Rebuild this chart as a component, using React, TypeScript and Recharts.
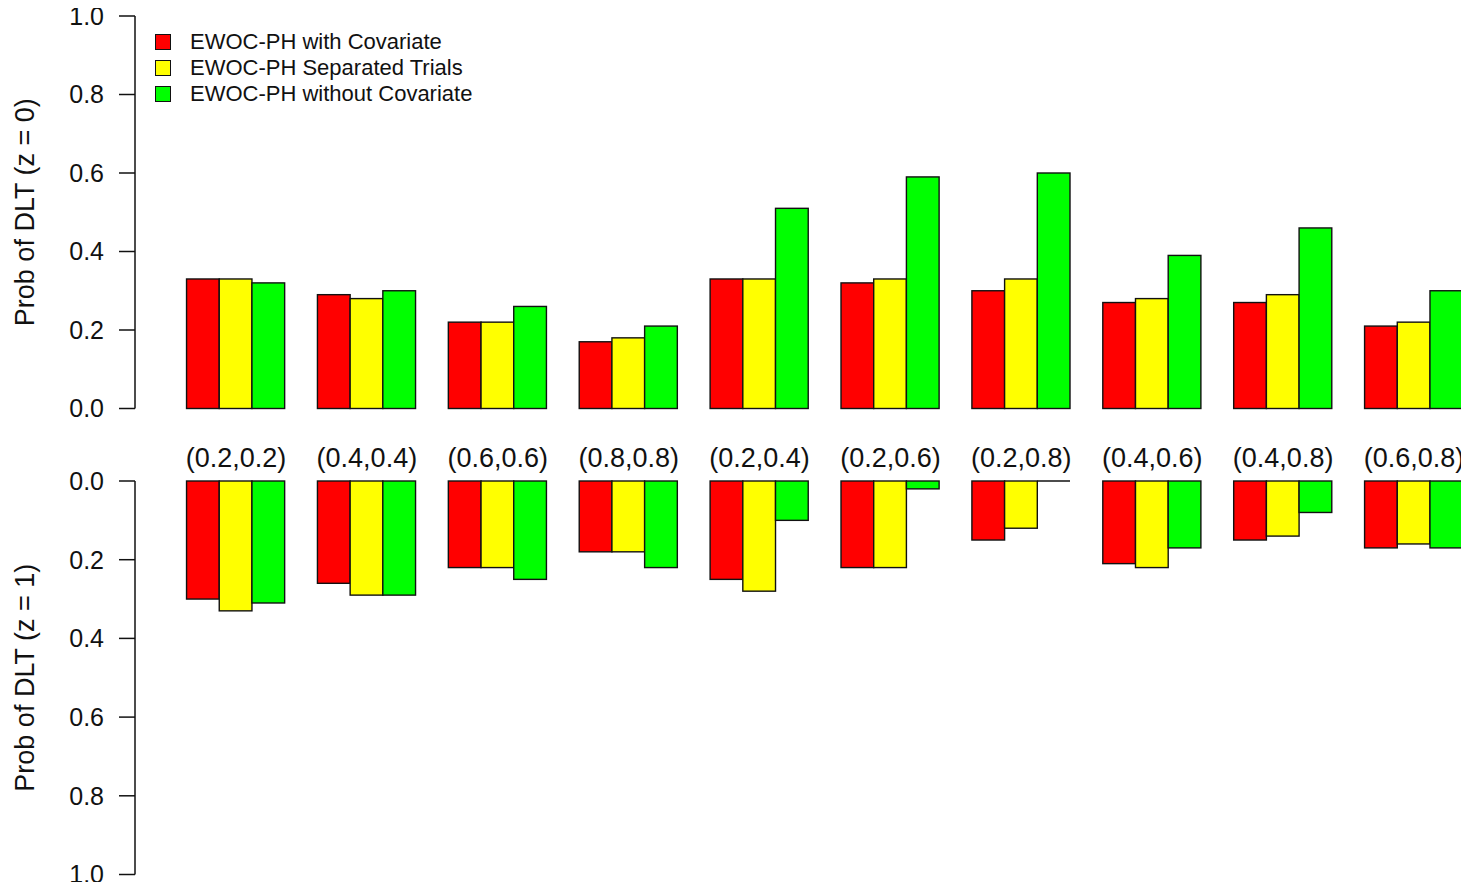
import React from 'react'
import { BarChart, Bar, XAxis, YAxis, Legend, Label } from 'recharts'

// dose pairs along the x axis
const categories = [
  '(0.2,0.2)', '(0.4,0.4)', '(0.6,0.6)', '(0.8,0.8)', '(0.2,0.4)',
  '(0.2,0.6)', '(0.2,0.8)', '(0.4,0.6)', '(0.4,0.8)', '(0.6,0.8)',
]

// P(DLT) for z = 0
const withCovZ0 = [0.33, 0.29, 0.22, 0.17, 0.33, 0.32, 0.30, 0.27, 0.27, 0.21]
const separatedZ0 = [0.33, 0.28, 0.22, 0.18, 0.33, 0.33, 0.33, 0.28, 0.29, 0.22]
const withoutCovZ0 = [0.32, 0.30, 0.26, 0.21, 0.51, 0.59, 0.60, 0.39, 0.46, 0.30]

// P(DLT) for z = 1
const withCovZ1 = [0.30, 0.26, 0.22, 0.18, 0.25, 0.22, 0.15, 0.21, 0.15, 0.17]
const separatedZ1 = [0.33, 0.29, 0.22, 0.18, 0.28, 0.22, 0.12, 0.22, 0.14, 0.16]
const withoutCovZ1 = [0.31, 0.29, 0.25, 0.22, 0.10, 0.02, 0.00, 0.17, 0.08, 0.17]

const yTicks = [0, 0.2, 0.4, 0.6, 0.8, 1.0]

const seriesNames = ['EWOC-PH with Covariate', 'EWOC-PH Separated Trials', 'EWOC-PH without Covariate']
const seriesColors = ['#ff0000', '#ffff00', '#00ff00']

const FONT = '"Liberation Sans", Arial, sans-serif'
const INK = '#111'
const W = 1469

const indices = categories.map((_, i) => i)
// numeric x so groups sit where base R barplot puts them (space = c(0, 1))
const xDomain = [-0.7716, 9.42]
const barWidth = 32.7

const buildRows = (a: number[], b: number[], c: number[]) =>
  categories.map((label, i) => ({ idx: i, label, withCov: a[i], separated: b[i], withoutCov: c[i] }))

const rowsZ0 = buildRows(withCovZ0, separatedZ0, withoutCovZ0)
const rowsZ1 = buildRows(withCovZ1, separatedZ1, withoutCovZ1)

// zero-height bars still show their outline as a flat line
function BarShape(props: any) {
  const { x, y, width, height, fill } = props
  const top = height < 0 ? y + height : y
  const h = Math.abs(height || 0)
  if (!h) {
    return <line x1={x} x2={x + width} y1={y} y2={y} stroke={INK} strokeWidth={1.4} />
  }
  return <rect x={x} y={top} width={width} height={h} fill={fill} stroke={INK} strokeWidth={1.4} />
}

function AxisTitle({ text }: { text: string }) {
  return (
    <Label
      content={(p: any) => {
        const vb = p.viewBox || {}
        const cy = vb.y + vb.height / 2
        return (
          <text
            x={25}
            y={cy}
            transform={`rotate(-90, 25, ${cy})`}
            textAnchor="middle"
            dominantBaseline="central"
            fontSize={27}
            fontFamily={FONT}
            fill={INK}
          >
            {text}
          </text>
        )
      }}
    />
  )
}

// zero-size wrapper so the legend floats over the plot instead of taking room
function LegendBox({ payload }: any) {
  const items = [...(payload || [])].sort(
    (a: any, b: any) => seriesNames.indexOf(a.value) - seriesNames.indexOf(b.value),
  )
  return (
    <div style={{ position: 'relative', width: 0, height: 0 }}>
      <div style={{ position: 'absolute', left: 0, top: 0, fontFamily: FONT, fontSize: 22, color: INK, whiteSpace: 'nowrap' }}>
        {items.map((item: any) => (
          <div key={item.value} style={{ display: 'flex', alignItems: 'center', height: 26 }}>
            <span
              style={{
                display: 'inline-block',
                width: 14,
                height: 14,
                background: item.color,
                border: `1.4px solid ${INK}`,
                marginRight: 19,
              }}
            />
            <span>{item.value}</span>
          </div>
        ))}
      </div>
    </div>
  )
}

const yAxisProps = {
  type: 'number' as const,
  domain: [0, 1],
  ticks: yTicks,
  interval: 0 as const,
  width: 135,
  tickSize: 16,
  tickMargin: 15,
  tickFormatter: (v: number) => v.toFixed(1),
  tick: { fontSize: 25, fontFamily: FONT, fill: INK },
  stroke: INK,
  strokeWidth: 1.5,
}

export default function App() {
  const bars = ['withCov', 'separated', 'withoutCov'].map((key, i) => (
    <Bar
      key={key}
      dataKey={key}
      name={seriesNames[i]}
      fill={seriesColors[i]}
      stroke={INK}
      shape={BarShape}
      isAnimationActive={false}
    />
  ))

  return (
    <div style={{ position: 'relative', width: W, height: 890, margin: -8, background: '#fff' }}>
      <div style={{ position: 'absolute', left: 0, top: 0 }}>
        <BarChart
          width={W}
          height={490}
          data={rowsZ0}
          margin={{ top: 16, right: 0, bottom: 0, left: 0 }}
          barSize={barWidth}
          barGap={0}
        >
          <XAxis
            type="number"
            dataKey="idx"
            domain={xDomain}
            ticks={indices}
            interval={0}
            height={81.5}
            axisLine={false}
            tickLine={false}
            tickSize={0}
            tickMargin={39}
            tickFormatter={(i: number) => categories[i]}
            tick={{ fontSize: 27, fontFamily: FONT, fill: INK }}
          />
          <YAxis {...yAxisProps}>
            <AxisTitle text="Prob of DLT (z = 0)" />
          </YAxis>
          <Legend
            layout="vertical"
            verticalAlign="top"
            align="left"
            wrapperStyle={{ left: 155, top: 29, width: 0, height: 0 }}
            content={LegendBox}
          />
          {bars}
        </BarChart>
      </div>
      <div style={{ position: 'absolute', left: 0, top: 455 }}>
        <BarChart
          width={W}
          height={435}
          data={rowsZ1}
          margin={{ top: 26, right: 0, bottom: 15.5, left: 0 }}
          barSize={barWidth}
          barGap={0}
        >
          <XAxis type="number" dataKey="idx" domain={xDomain} ticks={indices} hide />
          <YAxis {...yAxisProps} reversed>
            <AxisTitle text="Prob of DLT (z = 1)" />
          </YAxis>
          {bars}
        </BarChart>
      </div>
    </div>
  )
}
